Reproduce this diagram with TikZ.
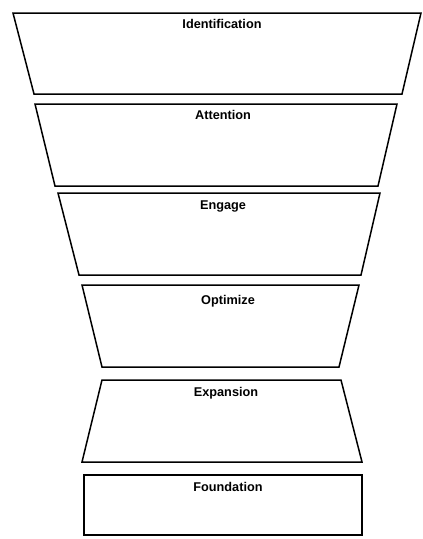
\documentclass[tikz,border=0pt]{standalone}
\usepackage{fontspec}
\setmainfont{Liberation Sans}

\begin{document}
\begin{tikzpicture}[x=1pt, y=-1pt,
    stage/.style={draw, line width=1.5pt, line join=miter},
    stagetitle/.style={font=\bfseries\fontsize{12.7}{15}\selectfont, anchor=base}]
  \useasboundingbox (0,0) rectangle (423,539);

  % name / top / bottom / top-left / top-right / bottom-left / bottom-right / baseline / text x / text
  \foreach \name/\ytop/\ybot/\tl/\tr/\bl/\br/\yb/\xt/\txt in {
      ident/13/94/13/421/34/402/28/222/Identification,
      attn/104/186/35/397/55/378/119/223/Attention,
      engage/193/275/58/380/79/361/209/223/Engage,
      optim/285/367/82/359/102/339/304/228/Optimize,
      expand/380/462/102/341/82/362/396/226/Expansion,
      found/475/535/84/362/84/362/491/228/Foundation}
  {
    \draw[stage] (\tl,\ytop) -- (\tr,\ytop) -- (\br,\ybot) -- (\bl,\ybot) -- cycle;
    \node[stagetitle] (\name) at (\xt,\yb) {\txt};
  }
\end{tikzpicture}
\end{document}
